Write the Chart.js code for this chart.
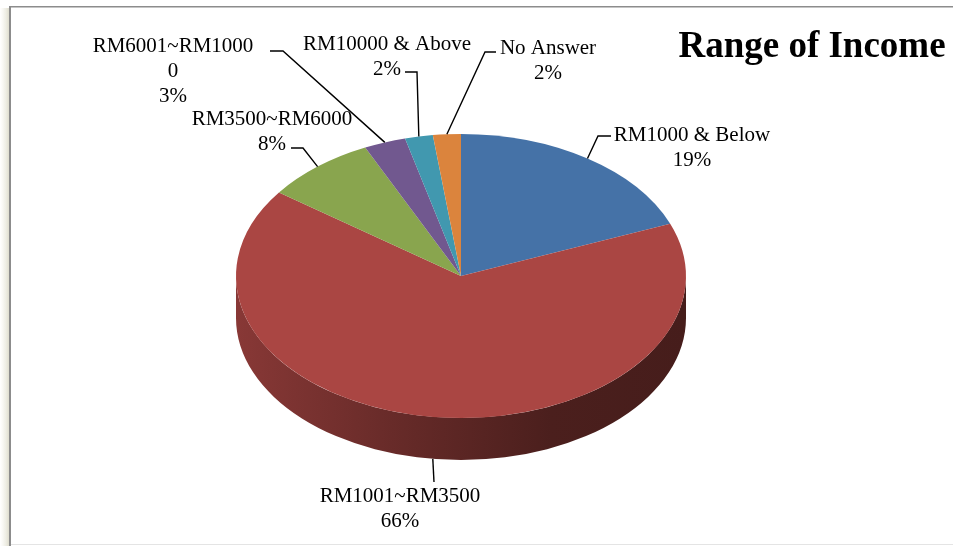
<!DOCTYPE html>
<html>
<head>
<meta charset="utf-8">
<title>Range of Income</title>
<script src="https://cdn.jsdelivr.net/npm/chart.js@4/dist/chart.umd.min.js"></script>
<style>
  html, body { margin: 0; padding: 0; background: #fff; }
  canvas { display: block; }
</style>
</head>
<body>
<canvas id="income" width="953" height="546"></canvas>
<script>
// income brackets, clockwise from 12 o'clock
const categories = ['RM1000 & Below', 'RM1001~RM3500', 'RM3500~RM6000', 'RM6001~RM10000', 'RM10000 & Above', 'No Answer'];
const shares = [19, 66, 8, 3, 2, 2];
// how each category name wraps in its callout
const labelLines = [['RM1000 & Below'], ['RM1001~RM3500'], ['RM3500~RM6000'], ['RM6001~RM1000', '0'], ['RM10000 & Above'], ['No Answer']];
const sliceColors = ['#4572a7', '#aa4643', '#89a54e', '#71588f', '#4198af', '#db843d'];

const TILT = 142 / 225;   // vertical squash of the top face
const DEPTH = 42;         // thickness of the disc
const FONT = "'Liberation Serif', 'Times New Roman', serif";

// callout layout: text centre x, first baseline, leader elbow, tick end
const callouts = [
    { x: 692, y: 141, elbow: [598, 136], tick: [611, 136] },
    { x: 400, y: 502, elbow: [434, 482], tick: null },
    { x: 272, y: 125, elbow: [303, 148], tick: [291, 148] },
    { x: 173, y: 52,  elbow: [283, 51],  tick: [270, 51] },
    { x: 387, y: 50,  elbow: [417, 72],  tick: [405, 72] },
    { x: 548, y: 54,  elbow: [485, 52],  tick: [496, 52] }
];

function shade(hex, f) {
    const n = parseInt(hex.slice(1), 16);
    const r = Math.round(((n >> 16) & 255) * f);
    const g = Math.round(((n >> 8) & 255) * f);
    const b = Math.round((n & 255) * f);
    return 'rgb(' + r + ',' + g + ',' + b + ')';
}

const pie3d = {
    id: 'pie3d',
    beforeDraw(chart) {
        const ctx = chart.ctx;
        ctx.save();
        // left drop shadow and frame
        const sh = ctx.createLinearGradient(0, 0, 10, 0);
        sh.addColorStop(0, 'rgba(230,228,205,0)');
        sh.addColorStop(1, 'rgba(200,198,175,0.7)');
        ctx.fillStyle = sh;
        ctx.fillRect(0, 8, 10, 538);
        ctx.fillStyle = '#8c8c8c';
        ctx.fillRect(9, 6, 2, 540);
        ctx.fillRect(9, 6, 944, 1.5);
        ctx.fillStyle = '#e4e4e4';
        ctx.fillRect(11, 544, 942, 1);
        ctx.restore();
    },
    beforeDatasetsDraw(chart) {
        const ctx = chart.ctx;
        const arcs = chart.getDatasetMeta(0).data;
        const cx = arcs[0].x, cy = arcs[0].y, rx = arcs[0].outerRadius, ry = rx * TILT;
        ctx.save();
        arcs.forEach((el, i) => {
            const a = Math.max(el.startAngle, 0);
            const b = Math.min(el.endAngle, Math.PI);
            if (b <= a) return;
            const g = ctx.createLinearGradient(cx - rx, 0, cx + rx, 0);
            g.addColorStop(0, shade(sliceColors[i], 0.8));
            g.addColorStop(0.4, shade(sliceColors[i], 0.58));
            g.addColorStop(0.7, shade(sliceColors[i], 0.44));
            g.addColorStop(1, shade(sliceColors[i], 0.41));
            ctx.beginPath();
            ctx.ellipse(cx, cy, rx, ry, 0, a, b, false);
            ctx.ellipse(cx, cy + DEPTH, rx, ry, 0, b, a, true);
            ctx.closePath();
            ctx.fillStyle = g;
            ctx.fill();
        });
        ctx.restore();
        // squash the pie itself into the top face
        ctx.save();
        ctx.translate(0, cy);
        ctx.scale(1, TILT);
        ctx.translate(0, -cy);
    },
    afterDatasetsDraw(chart) {
        const ctx = chart.ctx;
        ctx.restore();
        const arcs = chart.getDatasetMeta(0).data;
        const cx = arcs[0].x, cy = arcs[0].y, rx = arcs[0].outerRadius, ry = rx * TILT;

        ctx.save();
        ctx.strokeStyle = '#000';
        ctx.lineWidth = 1.4;
        arcs.forEach((el, i) => {
            const mid = (el.startAngle + el.endAngle) / 2;
            let ax = cx + rx * Math.cos(mid);
            let ay = cy + ry * Math.sin(mid);
            if (Math.sin(mid) > 0) ay += DEPTH;
            const c = callouts[i];
            ctx.beginPath();
            ctx.moveTo(ax, ay);
            ctx.lineTo(c.elbow[0], c.elbow[1]);
            if (c.tick) ctx.lineTo(c.tick[0], c.tick[1]);
            ctx.stroke();

            const lines = labelLines[i].concat([shares[i] + '%']);
            ctx.fillStyle = '#000';
            ctx.font = '21px ' + FONT;
            ctx.textAlign = 'center';
            ctx.textBaseline = 'alphabetic';
            lines.forEach((t, k) => ctx.fillText(t, c.x, c.y + k * 25));
        });

        ctx.font = 'bold 37px ' + FONT;
        ctx.textAlign = 'center';
        ctx.fillText('Range of Income', 812, 57);
        ctx.restore();
    }
};

new Chart(document.getElementById('income'), {
    type: 'pie',
    data: {
        labels: categories,
        datasets: [{
            data: shares,
            backgroundColor: sliceColors,
            borderWidth: 0
        }]
    },
    options: {
        responsive: false,
        animation: false,
        layout: { padding: { left: 236, right: 267, top: 51, bottom: 45 } },
        plugins: {
            legend: { display: false },
            tooltip: { enabled: false }
        }
    },
    plugins: [pie3d]
});
</script>
</body>
</html>
